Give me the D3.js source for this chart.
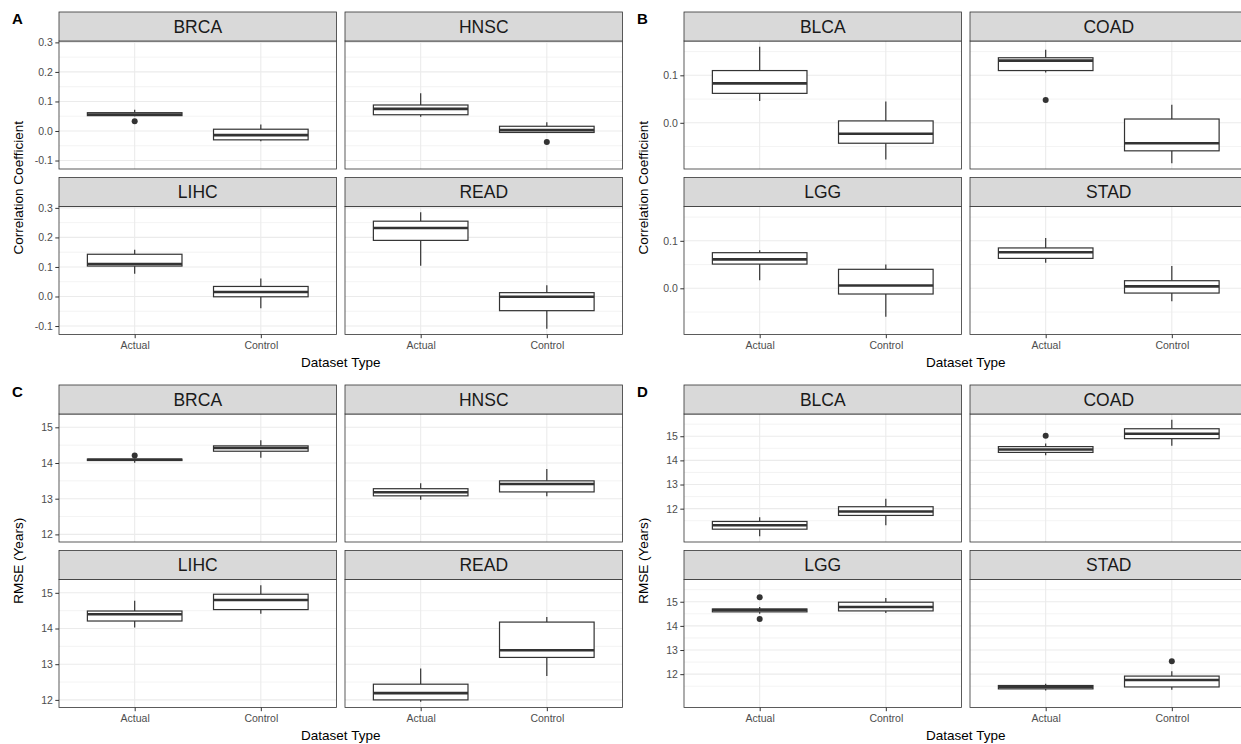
<!DOCTYPE html>
<html>
<head>
<meta charset="utf-8">
<script src="https://cdn.jsdelivr.net/npm/d3@7"></script>
<style>
body { margin: 0; background: #fff; }
text { font-family: "Liberation Sans", Arial, sans-serif; }
</style>
</head>
<body>
<script>
// x categories
var datasetTypes = ["Actual", "Control"];

// box stats: [lower whisker, q1, median, q3, upper whisker]
// A: correlation, pan-cancer
var facetsA = ["BRCA", "HNSC", "LIHC", "READ"];
var actualA = [[0.050, 0.052, 0.056, 0.062, 0.072], [0.048, 0.055, 0.075, 0.088, 0.128], [0.077, 0.103, 0.110, 0.143, 0.158], [0.104, 0.190, 0.232, 0.255, 0.285]];
var controlA = [[-0.035, -0.030, -0.014, 0.006, 0.022], [-0.006, -0.005, 0.003, 0.016, 0.030], [-0.040, -0.001, 0.015, 0.034, 0.061], [-0.109, -0.048, -0.001, 0.013, 0.038]];
var outliersA = [[["Actual", 0.033]], [["Control", -0.037]], [], []];
var ticksA = [-0.1, 0.0, 0.1, 0.2, 0.3];

// B: correlation, other cancers
var facetsB = ["BLCA", "COAD", "LGG", "STAD"];
var actualB = [[0.046, 0.062, 0.083, 0.110, 0.160], [0.106, 0.110, 0.131, 0.137, 0.154], [0.017, 0.051, 0.061, 0.075, 0.080], [0.054, 0.063, 0.076, 0.085, 0.106]];
var controlB = [[-0.077, -0.043, -0.023, 0.004, 0.045], [-0.085, -0.059, -0.043, 0.008, 0.038], [-0.060, -0.012, 0.006, 0.040, 0.050], [-0.027, -0.010, 0.004, 0.016, 0.047]];
var outliersB = [[], [["Actual", 0.048]], [], []];
var ticksB = [0.0, 0.1];

// C: RMSE
var facetsC = ["BRCA", "HNSC", "LIHC", "READ"];
var actualC = [[14.01, 14.07, 14.09, 14.11, 14.12], [12.97, 13.08, 13.18, 13.28, 13.43], [14.03, 14.21, 14.40, 14.49, 14.78], [11.95, 12.00, 12.19, 12.44, 12.88]];
var controlC = [[14.15, 14.33, 14.42, 14.48, 14.64], [13.07, 13.19, 13.41, 13.50, 13.83], [14.41, 14.53, 14.80, 14.96, 15.21], [12.67, 13.19, 13.39, 14.18, 14.32]];
var outliersC = [[["Actual", 14.21]], [], [], []];
var ticksC = [12, 13, 14, 15];

// D: RMSE
var facetsD = ["BLCA", "COAD", "LGG", "STAD"];
var actualD = [[10.86, 11.15, 11.31, 11.47, 11.64], [14.21, 14.33, 14.45, 14.57, 14.70], [14.50, 14.58, 14.66, 14.70, 14.78], [11.32, 11.39, 11.47, 11.53, 11.60]];
var controlD = [[11.31, 11.72, 11.88, 12.08, 12.41], [14.61, 14.90, 15.10, 15.31, 15.68], [14.53, 14.62, 14.78, 14.98, 15.15], [11.35, 11.47, 11.76, 11.92, 12.12]];
var outliersD = [[], [["Actual", 15.02]], [["Actual", 15.19], ["Actual", 14.29]], [["Control", 12.53]]];
var ticksD = [12, 13, 14, 15];

var width = 1241, height = 744;
var stripH = 29, plotH = 128, panelW = 277.5, gapX = 8.5, gapY = 8.5;

var svg = d3.select("body").append("svg")
    .attr("width", width)
    .attr("height", height);

function fmt1(v) { return v.toFixed(1); }
function fmt0(v) { return String(v); }

function drawFigure(fig) {
    var g = svg.append("g");

    // shared (fixed) y scale across facets, 5% expansion like ggplot
    var vals = [];
    fig.actual.concat(fig.control).forEach(function (s) { vals.push(s[0], s[4]); });
    fig.outliers.forEach(function (o) { o.forEach(function (p) { vals.push(p[1]); }); });
    var lo = d3.min(vals), hi = d3.max(vals), pad = (hi - lo) * 0.05;

    var majors = fig.ticks;
    var step = majors.length > 1 ? majors[1] - majors[0] : 1;
    var minors = [];
    for (var m = majors[0] - step / 2; m <= majors[majors.length - 1] + step; m += step) {
        if (m >= lo - pad && m <= hi + pad) minors.push(m);
    }
    var majorsIn = majors.filter(function (t) { return t >= lo - pad && t <= hi + pad; });

    fig.facets.forEach(function (name, i) {
        var col = i % 2, row = Math.floor(i / 2);
        var px = fig.left + col * (panelW + gapX);
        var sy = fig.top + row * (stripH + plotH + gapY);
        var py = sy + stripH;

        var y = d3.scaleLinear().domain([lo - pad, hi + pad]).range([py + plotH, py]);
        var x = d3.scalePoint().domain(datasetTypes).range([px, px + panelW]).padding(0.6);
        var boxW = x.step() * 0.75;

        var p = g.append("g");

        // gridlines
        p.selectAll(".minor").data(minors).enter().append("line")
            .attr("x1", px).attr("x2", px + panelW)
            .attr("y1", function (d) { return y(d); }).attr("y2", function (d) { return y(d); })
            .attr("stroke", "#ebebeb").attr("stroke-width", 0.6);
        p.selectAll(".major").data(majorsIn).enter().append("line")
            .attr("x1", px).attr("x2", px + panelW)
            .attr("y1", function (d) { return y(d); }).attr("y2", function (d) { return y(d); })
            .attr("stroke", "#ebebeb").attr("stroke-width", 1.1);
        p.selectAll(".vgrid").data(datasetTypes).enter().append("line")
            .attr("x1", function (d) { return x(d); }).attr("x2", function (d) { return x(d); })
            .attr("y1", py).attr("y2", py + plotH)
            .attr("stroke", "#ebebeb").attr("stroke-width", 1.1);

        var stats = [
            { type: "Actual", s: fig.actual[i] },
            { type: "Control", s: fig.control[i] }
        ];

        var b = p.selectAll(".box").data(stats).enter().append("g");
        // whiskers
        b.append("line")
            .attr("x1", function (d) { return x(d.type); }).attr("x2", function (d) { return x(d.type); })
            .attr("y1", function (d) { return y(d.s[3]); }).attr("y2", function (d) { return y(d.s[4]); })
            .attr("stroke", "#333").attr("stroke-width", 1.2);
        b.append("line")
            .attr("x1", function (d) { return x(d.type); }).attr("x2", function (d) { return x(d.type); })
            .attr("y1", function (d) { return y(d.s[1]); }).attr("y2", function (d) { return y(d.s[0]); })
            .attr("stroke", "#333").attr("stroke-width", 1.2);
        // box
        b.append("rect")
            .attr("x", function (d) { return x(d.type) - boxW / 2; })
            .attr("y", function (d) { return y(d.s[3]); })
            .attr("width", boxW)
            .attr("height", function (d) { return y(d.s[1]) - y(d.s[3]); })
            .attr("fill", "#fff").attr("stroke", "#333").attr("stroke-width", 1.2);
        // median
        b.append("line")
            .attr("x1", function (d) { return x(d.type) - boxW / 2; })
            .attr("x2", function (d) { return x(d.type) + boxW / 2; })
            .attr("y1", function (d) { return y(d.s[2]); }).attr("y2", function (d) { return y(d.s[2]); })
            .attr("stroke", "#333").attr("stroke-width", 2.6);

        // outliers
        p.selectAll(".out").data(fig.outliers[i]).enter().append("circle")
            .attr("cx", function (d) { return x(d[0]); })
            .attr("cy", function (d) { return y(d[1]); })
            .attr("r", 3).attr("fill", "#333");

        // panel border
        p.append("rect")
            .attr("x", px).attr("y", py).attr("width", panelW).attr("height", plotH)
            .attr("fill", "none").attr("stroke", "#333").attr("stroke-width", 0.8);

        // strip
        p.append("rect")
            .attr("x", px).attr("y", sy).attr("width", panelW).attr("height", stripH)
            .attr("fill", "#d9d9d9").attr("stroke", "#333").attr("stroke-width", 0.8);
        p.append("text")
            .attr("x", px + panelW / 2).attr("y", sy + stripH / 2 + 6.3)
            .attr("text-anchor", "middle")
            .style("font-size", "17.5px").style("fill", "#1a1a1a")
            .text(name);

        // axes
        if (col === 0) {
            var ya = p.append("g").attr("transform", "translate(" + px + ",0)")
                .call(d3.axisLeft(y).tickValues(majorsIn).tickFormat(fig.fmt).tickSize(3.7).tickPadding(2.5));
            ya.select(".domain").remove();
            ya.selectAll(".tick line").attr("stroke", "#333");
            ya.selectAll(".tick text").style("font-size", "10.5px").style("fill", "#4d4d4d")
                .style("font-family", "'Liberation Sans', Arial, sans-serif");
        }
        if (row === 1) {
            var xa = p.append("g").attr("transform", "translate(0," + (py + plotH) + ")")
                .call(d3.axisBottom(x).tickSize(3.7).tickPadding(3));
            xa.select(".domain").remove();
            xa.selectAll(".tick line").attr("stroke", "#333");
            xa.selectAll(".tick text").style("font-size", "10.5px").style("fill", "#4d4d4d")
                .style("font-family", "'Liberation Sans', Arial, sans-serif");
        }
    });

    var plotTop = fig.top + stripH;
    var plotBottom = fig.top + 2 * (stripH + plotH) + gapY;
    var midX = fig.left + panelW + gapX / 2;

    // figure letter
    g.append("text")
        .attr("x", fig.left - 47).attr("y", fig.top + 11.5)
        .style("font-size", "15px").style("font-weight", "bold").style("fill", "#000")
        .text(fig.label);

    // y title
    g.append("text")
        .attr("transform", "translate(" + (fig.left - 36) + "," + ((plotTop + plotBottom) / 2) + ") rotate(-90)")
        .attr("text-anchor", "middle")
        .style("font-size", "13.5px").style("fill", "#000")
        .text(fig.yTitle);

    // x title
    g.append("text")
        .attr("x", midX).attr("y", plotBottom + 32.5)
        .attr("text-anchor", "middle")
        .style("font-size", "13.5px").style("fill", "#000")
        .text("Dataset Type");
}

drawFigure({ label: "A", left: 59, top: 12, facets: facetsA, actual: actualA, control: controlA, outliers: outliersA, ticks: ticksA, fmt: fmt1, yTitle: "Correlation Coefficient" });
drawFigure({ label: "B", left: 684, top: 12, facets: facetsB, actual: actualB, control: controlB, outliers: outliersB, ticks: ticksB, fmt: fmt1, yTitle: "Correlation Coefficient" });
drawFigure({ label: "C", left: 59, top: 385, facets: facetsC, actual: actualC, control: controlC, outliers: outliersC, ticks: ticksC, fmt: fmt0, yTitle: "RMSE (Years)" });
drawFigure({ label: "D", left: 684, top: 385, facets: facetsD, actual: actualD, control: controlD, outliers: outliersD, ticks: ticksD, fmt: fmt0, yTitle: "RMSE (Years)" });
</script>
</body>
</html>
